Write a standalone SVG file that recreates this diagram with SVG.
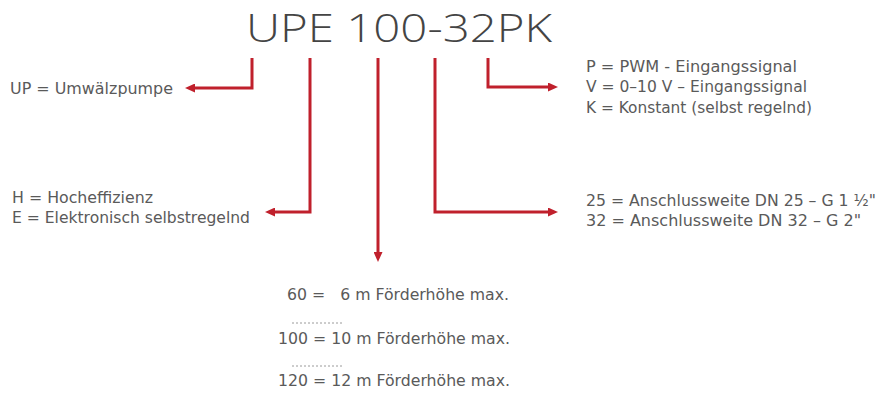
<svg xmlns="http://www.w3.org/2000/svg" width="882" height="394" viewBox="0 0 882 394">
<style>
.t{font-family:"DejaVu Sans","Liberation Sans",sans-serif;font-size:15px;fill:#5a5a5a;white-space:pre}
.title{font-family:"Open Sans","DejaVu Sans",sans-serif;font-weight:300;font-size:38px;fill:#444}
.c{fill:none;stroke:#c0202c;stroke-width:3}
.dot{stroke:#9a9a9a;stroke-width:1;stroke-dasharray:2 2}
</style>
<defs>
<marker id="ah" markerUnits="userSpaceOnUse" viewBox="0 0 10 9" markerWidth="10" markerHeight="9" refX="2" refY="4.5" orient="auto">
<path d="M0,0 L10,4.5 L0,9 z" fill="#c0202c"/>
</marker>
</defs>
<rect width="882" height="394" fill="#fff"/>
<g id="title"><text class="title" x="246" y="42" textLength="306" lengthAdjust="spacingAndGlyphs">UPE 100-32PK</text></g>
<g id="connectors">
<path class="c" d="M252,58 V88 H193" marker-end="url(#ah)"/>
<path class="c" d="M310,58 V212 H273" marker-end="url(#ah)"/>
<path class="c" d="M378,58 V254" marker-end="url(#ah)"/>
<path class="c" d="M435,58 V212 H550" marker-end="url(#ah)"/>
<path class="c" d="M488,58 V87 H550" marker-end="url(#ah)"/>
</g>
<g id="up"><text class="t" x="10" y="94" textLength="163" lengthAdjust="spacingAndGlyphs">UP = Umwälzpumpe</text></g>
<g id="he">
<text class="t" x="12" y="203" textLength="141" lengthAdjust="spacingAndGlyphs">H = Hocheffizienz</text>
<text class="t" x="12" y="223" textLength="238" lengthAdjust="spacingAndGlyphs">E = Elektronisch selbstregelnd</text>
</g>
<g id="pvk">
<text class="t" x="586" y="72" textLength="211" lengthAdjust="spacingAndGlyphs">P = PWM - Eingangssignal</text>
<text class="t" x="586" y="92" textLength="221" lengthAdjust="spacingAndGlyphs">V = 0–10 V – Eingangssignal</text>
<text class="t" x="586" y="113" textLength="226" lengthAdjust="spacingAndGlyphs">K = Konstant (selbst regelnd)</text>
</g>
<g id="dn">
<text class="t" x="586" y="206" textLength="290" lengthAdjust="spacingAndGlyphs">25 = Anschlussweite DN 25 – G 1 ½"</text>
<text class="t" x="586" y="226" textLength="275" lengthAdjust="spacingAndGlyphs">32 = Anschlussweite DN 32 – G 2"</text>
</g>
<g id="head">
<text class="t" x="287" y="300" textLength="222" lengthAdjust="spacingAndGlyphs" xml:space="preserve">60 =   6 m Förderhöhe max.</text>
<line class="dot" x1="292" y1="323" x2="342" y2="323"/>
<text class="t" x="278" y="344" textLength="232" lengthAdjust="spacingAndGlyphs">100 = 10 m Förderhöhe max.</text>
<line class="dot" x1="292" y1="366" x2="342" y2="366"/>
<text class="t" x="278" y="386" textLength="232" lengthAdjust="spacingAndGlyphs">120 = 12 m Förderhöhe max.</text>
</g>
</svg>
